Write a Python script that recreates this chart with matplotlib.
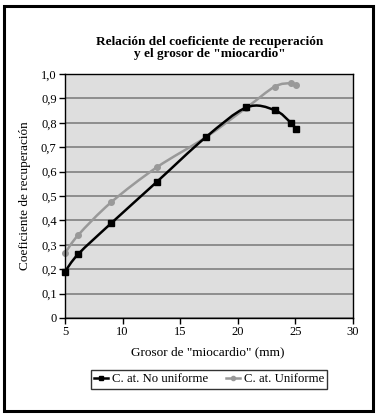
import numpy as np
import matplotlib
matplotlib.use("Agg")
import matplotlib.pyplot as plt
from matplotlib.path import Path
from matplotlib.patches import PathPatch, Rectangle
from matplotlib.lines import Line2D

# Data
x_no = [5.0, 6.15, 9.0, 12.95, 17.2, 20.75, 23.2, 24.6, 25.05]
y_no = [0.19, 0.262, 0.388, 0.557, 0.74, 0.863, 0.852, 0.80, 0.773]
x_un = [5.0, 6.15, 9.0, 12.95, 17.2, 20.75, 23.2, 24.6, 25.05]
y_un = [0.265, 0.34, 0.474, 0.617, 0.74, 0.862, 0.948, 0.962, 0.953]
labels = ["C. at. No uniforme", "C. at. Uniforme"]
title = "Relación del coeficiente de recuperación\ny el grosor de \"miocardio\""
xlabel = "Grosor de \"miocardio\" (mm)"
ylabel = "Coeficiente de recuperación"
xticks = [5, 10, 15, 20, 25, 30]
yticks = [0, 0.1, 0.2, 0.3, 0.4, 0.5, 0.6, 0.7, 0.8, 0.9, 1.0]
ytick_labels = ["0", "0,1", "0,2", "0,3", "0,4", "0,5", "0,6", "0,7", "0,8", "0,9", "1,0"]

plt.rcParams['font.family'] = ['Liberation Serif', 'DejaVu Serif']

W, H = 379, 417
fig = plt.figure(figsize=(W / 100, H / 100), dpi=100)

# axes placement in pixels
left, right, top, bottom = 65, 353, 74, 318
ax = fig.add_axes([left / W, 1 - bottom / H, (right - left) / W, (bottom - top) / H])
ax.set_facecolor('#dedede')
ax.set_xlim(5, 30)
ax.set_ylim(0, 1.0)
ax.set_yticks(yticks)
ax.set_yticklabels(ytick_labels)
ax.set_xticks(xticks)
ax.yaxis.grid(True, color='#808080', linewidth=1.2)
ax.set_axisbelow(True)
for s in ax.spines.values():
    s.set_color('black')
    s.set_linewidth(1.0)
ax.tick_params(axis='both', direction='out', length=4, width=1, labelsize=9, colors='black', pad=2)


def smooth_path(xs, ys, t=1/6):
    xs = np.asarray(xs, float)
    ys = np.asarray(ys, float)
    n = len(xs)
    verts = [(xs[0], ys[0])]
    codes = [Path.MOVETO]
    for i in range(n - 1):
        p0 = np.array([xs[max(i - 1, 0)], ys[max(i - 1, 0)]])
        p1 = np.array([xs[i], ys[i]])
        p2 = np.array([xs[i + 1], ys[i + 1]])
        p3 = np.array([xs[min(i + 2, n - 1)], ys[min(i + 2, n - 1)]])
        c1 = p1 + (p2 - p0) * t
        c2 = p2 - (p3 - p1) * t
        verts += [tuple(c1), tuple(c2), tuple(p2)]
        codes += [Path.CURVE4] * 3
    return Path(verts, codes)


ax.add_patch(PathPatch(smooth_path(x_un, y_un), facecolor='none', edgecolor='#999999', lw=1.8, clip_on=False))
ax.plot(x_un, y_un, linestyle='none', marker='o', ms=4, color='#999999', clip_on=False)
ax.add_patch(PathPatch(smooth_path(x_no, y_no), facecolor='none', edgecolor='black', lw=1.8, clip_on=False))
ax.plot(x_no, y_no, linestyle='none', marker='s', ms=4.5, color='black', clip_on=False)

fig.text(210 / W, 1 - 48 / H, title, ha='center', va='center', fontsize=9.5,
         fontweight='bold', linespacing=1.05)
fig.text(208 / W, 1 - 352 / H, xlabel, ha='center', va='center', fontsize=9.5)
fig.text(25 / W, 1 - 196 / H, ylabel, ha='center', va='center', fontsize=9.5, rotation=90)

handles = [Line2D([], [], color='black', marker='s', ms=3.5, lw=1.8),
           Line2D([], [], color='#999999', marker='o', ms=3, lw=1.8)]
leg = fig.legend(handles, labels, loc='center', bbox_to_anchor=(209 / W, 1 - 379.5 / H),
                 ncol=2, frameon=True, fancybox=False, fontsize=9.2, handlelength=1.1,
                 handletextpad=0.3, columnspacing=1.4, borderpad=0.25, edgecolor='black')
leg.get_frame().set_linewidth(1.0)

# outer border
fig.patches.append(Rectangle((4 / W, 1 - 411 / H), (373 - 4) / W, (411 - 6) / H,
                             transform=fig.transFigure, fill=False, edgecolor='black', lw=2.2))

fig.savefig('out.png', dpi=100)
